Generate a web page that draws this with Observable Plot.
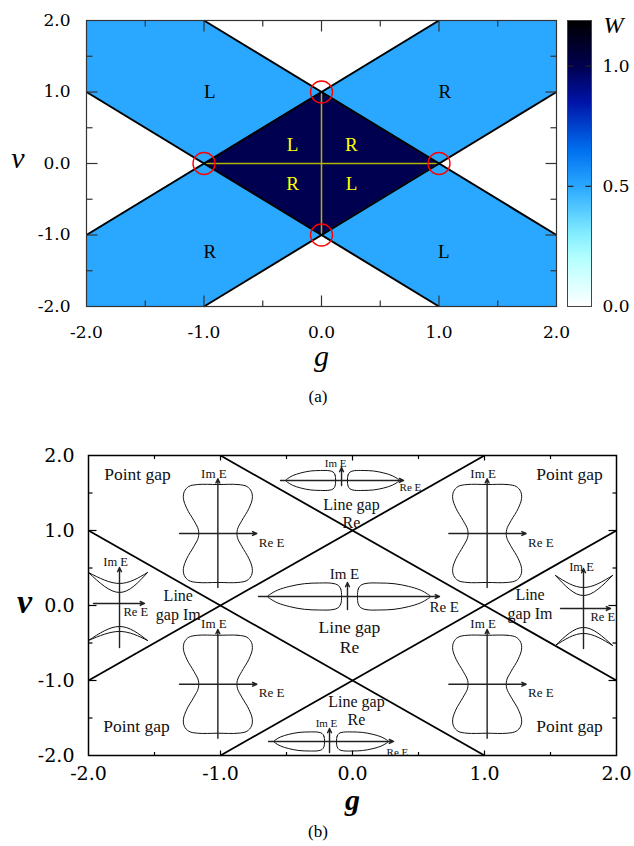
<!DOCTYPE html>
<html><head><meta charset="utf-8">
<script src="https://cdn.jsdelivr.net/npm/d3@7"></script>
<script src="https://cdn.jsdelivr.net/npm/@observablehq/plot@0.6"></script>
<style>
body{margin:0;background:#fff;}
#wrap{position:relative;width:634px;height:846px;overflow:hidden;background:#fff;}
.cap{position:absolute;left:0;width:636px;text-align:center;font-family:"Liberation Serif",serif;font-size:17px;line-height:20px;}
</style></head>
<body><div id="wrap"></div>
<script>
// ---------------- data ----------------
const gTicks = [-2, -1, 0, 1, 2];
const vTicks = [-2, -1, 0, 1, 2];
const edgeMajors = [-1, 0, 1];
const edgeMinors = [-1.5, -0.5, 0.5, 1.5];

// boundary lines v = ±g ± 1
const boundaryLines = [
  {g1: -2, v1: 1, g2: 1, v2: -2},
  {g1: -2, v1: -1, g2: 1, v2: 2},
  {g1: -1, v1: -2, g2: 2, v2: 1},
  {g1: -1, v1: 2, g2: 2, v2: -1}
];

// colour bar W
const wStops  = [0, 0.2, 0.3, 0.5, 0.65, 0.85, 1.0, 1.19];
const wColors = ["#ffffff", "#b4ffff", "#84eeff", "#2aa8ff", "#0070f0", "#0014a8", "#000050", "#000000"];
const wTicks = [0.0, 0.5, 1.0];
const wMax = 1.19;

// panel (a) regions (W values)
const bandRegion = [{x1: -2, x2: 2, y1: -2, y2: 2, W: 0.5}];
const coreDiamond = [{g: -1, lo: 0, hi: 0, W: 1.0}, {g: 0, lo: -1, hi: 1, W: 1.0}, {g: 1, lo: 0, hi: 0, W: 1.0}];
const gapTop = [{g: -1, lo: 2, W: 0}, {g: 0, lo: 1, W: 0}, {g: 1, lo: 2, W: 0}];
const gapBottom = [{g: -1, hi: -2, W: 0}, {g: 0, hi: -1, W: 0}, {g: 1, hi: -2, W: 0}];
const gapLeft = [{v: -1, e: -2, W: 0}, {v: 0, e: -1, W: 0}, {v: 1, e: -2, W: 0}];
const gapRight = [{v: -1, e: 2, W: 0}, {v: 0, e: 1, W: 0}, {v: 1, e: 2, W: 0}];
const exceptionalPoints = [{g: 0, v: 1}, {g: 1, v: 0}, {g: 0, v: -1}, {g: -1, v: 0}];
const crossLines = [{g1: 0, v1: -1, g2: 0, v2: 1}, {g1: -1, v1: 0, g2: 1, v2: 0}];
const outerLabels = [
  {g: -0.95, v: 1.0, t: "L"}, {g: 1.05, v: 1.0, t: "R"},
  {g: -0.95, v: -1.24, t: "R"}, {g: 1.04, v: -1.24, t: "L"}
];
const coreLabels = [
  {g: -0.247, v: 0.266, t: "L"}, {g: 0.255, v: 0.266, t: "R"},
  {g: -0.247, v: -0.28, t: "R"}, {g: 0.255, v: -0.28, t: "L"}
];

// panel (b) labels
const pointGapLabels = [
  {g: -1.629, v: 1.747}, {g: 1.644, v: 1.747}, {g: -1.636, v: -1.613}, {g: 1.644, v: -1.613}
];
const lineGapLabels = [
  {g: -0.008, v: 1.233, t: "Line gap\nRe", fs: 16},
  {g: -0.023, v: -0.413, t: "Line gap\nRe", fs: 17.5},
  {g: 0.03, v: -1.393, t: "Line gap\nRe", fs: 16},
  {g: -1.32, v: 0.013, t: "Line\ngap Im", fs: 16},
  {g: 1.345, v: 0.027, t: "Line\ngap Im", fs: 16}
];

// schematic spectra (offsets in g, v units)
const hourglassShape = [
  [0,0.653],[0.152,0.653],[0.22,0.627],[0.254,0.56],[0.261,0.467],[0.235,0.333],[0.182,0.173],[0.148,0.053],
  [0.148,-0.053],[0.182,-0.173],[0.235,-0.333],[0.261,-0.467],[0.254,-0.56],[0.22,-0.627],[0.152,-0.653],
  [0,-0.653],[-0.152,-0.653],[-0.22,-0.627],[-0.254,-0.56],[-0.261,-0.467],[-0.235,-0.333],[-0.182,-0.173],
  [-0.148,-0.053],[-0.148,0.053],[-0.182,0.173],[-0.235,0.333],[-0.261,0.467],[-0.254,0.56],[-0.22,0.627],[-0.152,0.653]
];
const hourglassCenters = [[-1.02, 0.96], [1.02, 0.96], [-1.02, -1.05], [1.02, -1.05]];
const teardrop = [
  [0,0],[0.01,0.55],[0.05,0.85],[0.13,0.98],[0.3,1],[0.5,0.95],[0.7,0.75],[0.86,0.48],[0.96,0.18],[1,0],
  [0.96,-0.18],[0.86,-0.48],[0.7,-0.75],[0.5,-0.95],[0.3,-1],[0.13,-0.98],[0.05,-0.85],[0.01,-0.55]
];
const loopInsets = [
  {g: -0.083, v: 1.667, loops: [{dir: -1, x0: 0.045, len: 0.379, h: 0.133}, {dir: 1, x0: 0.045, len: 0.394, h: 0.133}],
   axH: [-0.462, 0.47], axV: [-0.067, 0.173], im: [-0.045, 0.227], re: [0.44, -0.093], fs: 11},
  {g: -0.038, v: 0.12, loops: [{dir: -1, x0: 0.045, len: 0.561, h: 0.18}, {dir: 1, x0: 0.076, len: 0.553, h: 0.18}],
   axH: [-0.674, 0.697], axV: [-0.173, 0.187], im: [-0.023, 0.293], re: [0.621, -0.147], fs: 15},
  {g: -0.174, v: -1.813, loops: [{dir: -1, x0: 0.038, len: 0.386, h: 0.127}, {dir: 1, x0: 0.053, len: 0.394, h: 0.127}],
   axH: [-0.462, 0.485], axV: [-0.147, 0.173], im: [-0.023, 0.24], re: [0.432, -0.147], fs: 11}
];
const bandInsets = [
  {g: -1.765, v: 0.027, ends: [-0.235, 0.212], upperEnd: 0.413, upperMids: [0.267, 0.147], lowerEnd: -0.493, lowerMids: [-0.307, -0.373],
   axH: [-0.197, 0.189], axV: [-0.587, 0.48], im: [-0.03, 0.547], re: [0.03, -0.12], fs: 12.5},
  {g: 1.75, v: -0.04, ends: [-0.212, 0.22], upperEnd: 0.44, upperMids: [0.28, 0.173], lowerEnd: -0.493, lowerMids: [-0.253, -0.333],
   axH: [-0.174, 0.205], axV: [-0.533, 0.533], im: [-0.015, 0.547], re: [0.053, -0.107], fs: 12.5}
];

// ---------------- helpers ----------------
const W = 634;
const fmt = d => d.toFixed(1);
function edgeTicks(kx, ky, majX, minX, majY, minY) {
  const rows = [];
  const add = (t, lx, ly) => {
    rows.push({x1: t, x2: t, y1: -2, y2: -2 + lx / ky});
    rows.push({x1: t, x2: t, y1: 2, y2: 2 - lx / ky});
    rows.push({x1: -2, x2: -2 + ly / kx, y1: t, y2: t});
    rows.push({x1: 2, x2: 2 - ly / kx, y1: t, y2: t});
  };
  edgeMajors.forEach(t => add(t, majX, majY));
  edgeMinors.forEach(t => add(t, minX, minY));
  return rows;
}
const colorScale = {type: "linear", domain: wStops, range: wColors};
const wrap = document.getElementById("wrap");
function place(el, left, top) {
  el.style.position = "absolute"; el.style.left = left + "px"; el.style.top = top + "px";
  el.style.background = "transparent";
  wrap.appendChild(el);
}

// ---------------- panel (a) ----------------
const A = {ml: 86, mr: 78, mt: 20, mb: 74, h: 380};
const kxA = (W - A.ml - A.mr) / 4, kyA = (A.h - A.mt - A.mb) / 4;
const plotA = Plot.plot({
  width: W, height: A.h, marginLeft: A.ml, marginRight: A.mr, marginTop: A.mt, marginBottom: A.mb,
  x: {domain: [-2, 2]}, y: {domain: [-2, 2]},
  color: colorScale,
  style: {fontFamily: "DejaVu Serif", fontSize: "17px", color: "black", background: "transparent"},
  marks: [
    Plot.rect(bandRegion, {x1: "x1", x2: "x2", y1: "y1", y2: "y2", fill: "W"}),
    Plot.areaY(gapTop, {x: "g", y1: "lo", y2: 2, fill: "W"}),
    Plot.areaY(gapBottom, {x: "g", y1: -2, y2: "hi", fill: "W"}),
    Plot.areaX(gapLeft, {y: "v", x1: -2, x2: "e", fill: "W"}),
    Plot.areaX(gapRight, {y: "v", x1: "e", x2: 2, fill: "W"}),
    Plot.areaY(coreDiamond, {x: "g", y1: "lo", y2: "hi", fill: "W"}),
    Plot.link(crossLines, {x1: "g1", y1: "v1", x2: "g2", y2: "v2", stroke: "#b4b400", strokeWidth: 1.5}),
    Plot.link(boundaryLines, {x1: "g1", y1: "v1", x2: "g2", y2: "v2", stroke: "black", strokeWidth: 2}),
    Plot.dot(exceptionalPoints, {x: "g", y: "v", r: 11, stroke: "#ff0000", strokeWidth: 1.4, fill: "none"}),
    Plot.text(outerLabels, {x: "g", y: "v", text: "t", fill: "black", fontFamily: "Liberation Serif", fontSize: 19}),
    Plot.text(coreLabels, {x: "g", y: "v", text: "t", fill: "#ffff00", fontFamily: "Liberation Serif", fontSize: 19}),
    Plot.frame({stroke: "#333", strokeWidth: 1.2}),
    Plot.link(edgeTicks(kxA, kyA, 11, 6, 11, 6), {x1: "x1", y1: "y1", x2: "x2", y2: "y2", stroke: "#333", strokeWidth: 1.2}),
    Plot.axisX({ticks: gTicks, tickFormat: fmt, tickSize: 0, tickPadding: 19, label: null}),
    Plot.axisY({ticks: vTicks, tickFormat: fmt, tickSize: 0, tickPadding: 16, label: null}),
    Plot.text(["v"], {x: -2, y: 0, text: d => d, dx: -68.5, dy: -5.5, fontFamily: "Liberation Serif", fontStyle: "italic", fontSize: 30}),
    Plot.text(["g"], {x: 0, y: -2, text: d => d, dy: 50, fontFamily: "Liberation Serif", fontStyle: "italic", fontSize: 30})
  ]
});
place(plotA, 0, 0);

// colour bar
const CB = {left: 560, width: 74, ml: 7, mr: 43};
const plotCB = Plot.plot({
  width: CB.width, height: A.h, marginLeft: CB.ml, marginRight: CB.mr, marginTop: A.mt, marginBottom: A.mb,
  x: {domain: [0, 1], axis: null}, y: {domain: [0, wMax]},
  color: colorScale,
  style: {fontFamily: "DejaVu Serif", fontSize: "17px", color: "black", background: "transparent", overflow: "visible"},
  marks: [
    Plot.raster({fill: (x, y) => y, x1: 0, x2: 1, y1: 0, y2: wMax, width: 1, height: 286}),
    Plot.link(wTicks.slice(1).flatMap(t => [{x1: 0, x2: 0.25, y: t}, {x1: 0.75, x2: 1, y: t}]),
      {x1: "x1", x2: "x2", y1: "y", y2: "y", stroke: "#222", strokeWidth: 1.2}),
    Plot.frame({stroke: "#444", strokeWidth: 1}),
    Plot.axisY({anchor: "right", ticks: wTicks, tickFormat: fmt, tickSize: 0, tickPadding: 11, label: null}),
    Plot.text(["W"], {x: 1, y: wMax, text: d => d, dx: 12, dy: 5, textAnchor: "start", fontFamily: "Liberation Serif", fontStyle: "italic", fontSize: 24})
  ]
});
place(plotCB, CB.left, 0);

// ---------------- panel (b) ----------------
const B = {ml: 88, mr: 18, mt: 25, mb: 65, h: 390, top: 430};
const kxB = (W - B.ml - B.mr) / 4, kyB = (B.h - B.mt - B.mb) / 4;

const hourglassInsets = hourglassCenters.map(([g, v]) => ({g, v, axH: [-0.29, 0.295], axV: [-0.72, 0.73], im: [-0.03, 0.8], re: [0.31, -0.12], fs: 13}));
const allInsets = [...hourglassInsets, ...loopInsets, ...bandInsets];

const hgPts = hourglassCenters.flatMap(([cg, cv], i) => hourglassShape.map(([dg, dv]) => ({g: cg + dg, v: cv + dv, id: "h" + i})));
const loopPts = loopInsets.flatMap((ins, i) => ins.loops.flatMap((L, j) =>
  teardrop.map(([u, w]) => ({g: ins.g + L.dir * (L.x0 + u * L.len), v: ins.v + w * L.h, id: `l${i}-${j}`}))));
const bandPts = bandInsets.flatMap((b, i) => [
  ...b.upperMids.flatMap((m, j) => [[b.ends[0], b.upperEnd], [0, m], [b.ends[1], b.upperEnd]]
     .map(([dg, dv]) => ({g: b.g + dg, v: b.v + dv, id: `bu${i}-${j}`}))),
  ...b.lowerMids.flatMap((m, j) => [[b.ends[0], b.lowerEnd], [0, m], [b.ends[1], b.lowerEnd]]
     .map(([dg, dv]) => ({g: b.g + dg, v: b.v + dv, id: `bl${i}-${j}`})))
]);
const insetAxes = allInsets.flatMap(ins => [
  {x1: ins.g + ins.axH[0], y1: ins.v, x2: ins.g + ins.axH[1], y2: ins.v},
  {x1: ins.g, y1: ins.v + ins.axV[0], x2: ins.g, y2: ins.v + ins.axV[1]}
]);
const imLabels = allInsets.map(ins => ({g: ins.g + ins.im[0], v: ins.v + ins.im[1], fs: ins.fs}));
const reLabels = allInsets.map(ins => ({g: ins.g + ins.re[0], v: ins.v + ins.re[1], fs: ins.fs}));

const gapTextMarks = lineGapLabels.map(d =>
  Plot.text([d], {x: "g", y: "v", text: "t", fontSize: d.fs, lineHeight: 1.16, fontFamily: "Liberation Serif", fill: "#111"}));

const plotB = Plot.plot({
  width: W, height: B.h, marginLeft: B.ml, marginRight: B.mr, marginTop: B.mt, marginBottom: B.mb,
  x: {domain: [-2, 2]}, y: {domain: [-2, 2]},
  style: {fontFamily: "DejaVu Serif", fontSize: "19px", color: "black", background: "transparent"},
  marks: [
    Plot.link(boundaryLines, {x1: "g1", y1: "v1", x2: "g2", y2: "v2", stroke: "black", strokeWidth: 1.8}),
    Plot.line(hgPts, {x: "g", y: "v", z: "id", curve: "catmull-rom-closed", stroke: "#111", strokeWidth: 1}),
    Plot.line(loopPts, {x: "g", y: "v", z: "id", curve: "catmull-rom-closed", stroke: "#111", strokeWidth: 1}),
    Plot.line(bandPts, {x: "g", y: "v", z: "id", curve: "natural", stroke: "#111", strokeWidth: 1}),
    Plot.arrow(insetAxes, {x1: "x1", y1: "y1", x2: "x2", y2: "y2", stroke: "#222", strokeWidth: 1.4, headLength: 5, headAngle: 50}),
    Plot.text(imLabels, {x: "g", y: "v", text: () => "Im E", fontSize: "fs", fontFamily: "Liberation Serif", fill: "#111"}),
    Plot.text(reLabels, {x: "g", y: "v", text: () => "Re E", fontSize: "fs", textAnchor: "start", fontFamily: "Liberation Serif", fill: "#111"}),
    Plot.text(pointGapLabels, {x: "g", y: "v", text: () => "Point gap", fontSize: 17.5, fontFamily: "Liberation Serif", fill: "#111"}),
    ...gapTextMarks,
    Plot.frame({stroke: "black", strokeWidth: 1.5}),
    Plot.link(edgeTicks(kxB, kyB, 5, 3.5, 8, 4), {x1: "x1", y1: "y1", x2: "x2", y2: "y2", stroke: "black", strokeWidth: 1.2}),
    Plot.axisX({ticks: gTicks, tickFormat: fmt, tickSize: 0, tickPadding: 11, label: null}),
    Plot.axisY({ticks: vTicks, tickFormat: fmt, tickSize: 0, tickPadding: 14, label: null}),
    Plot.text(["v"], {x: -2, y: 0, text: d => d, dx: -64, dy: -3, fontFamily: "Liberation Serif", fontStyle: "italic", fontWeight: "bold", fontSize: 34}),
    Plot.text(["g"], {x: 0, y: -2, text: d => d, dy: 45, fontFamily: "Liberation Serif", fontStyle: "italic", fontWeight: "bold", fontSize: 30})
  ]
});
place(plotB, 0, B.top);

// captions
const capA = document.createElement("div"); capA.className = "cap"; capA.style.top = "387px"; capA.textContent = "(a)"; wrap.appendChild(capA);
const capB = document.createElement("div"); capB.className = "cap"; capB.style.top = "822px"; capB.textContent = "(b)"; wrap.appendChild(capB);
</script></body></html>
